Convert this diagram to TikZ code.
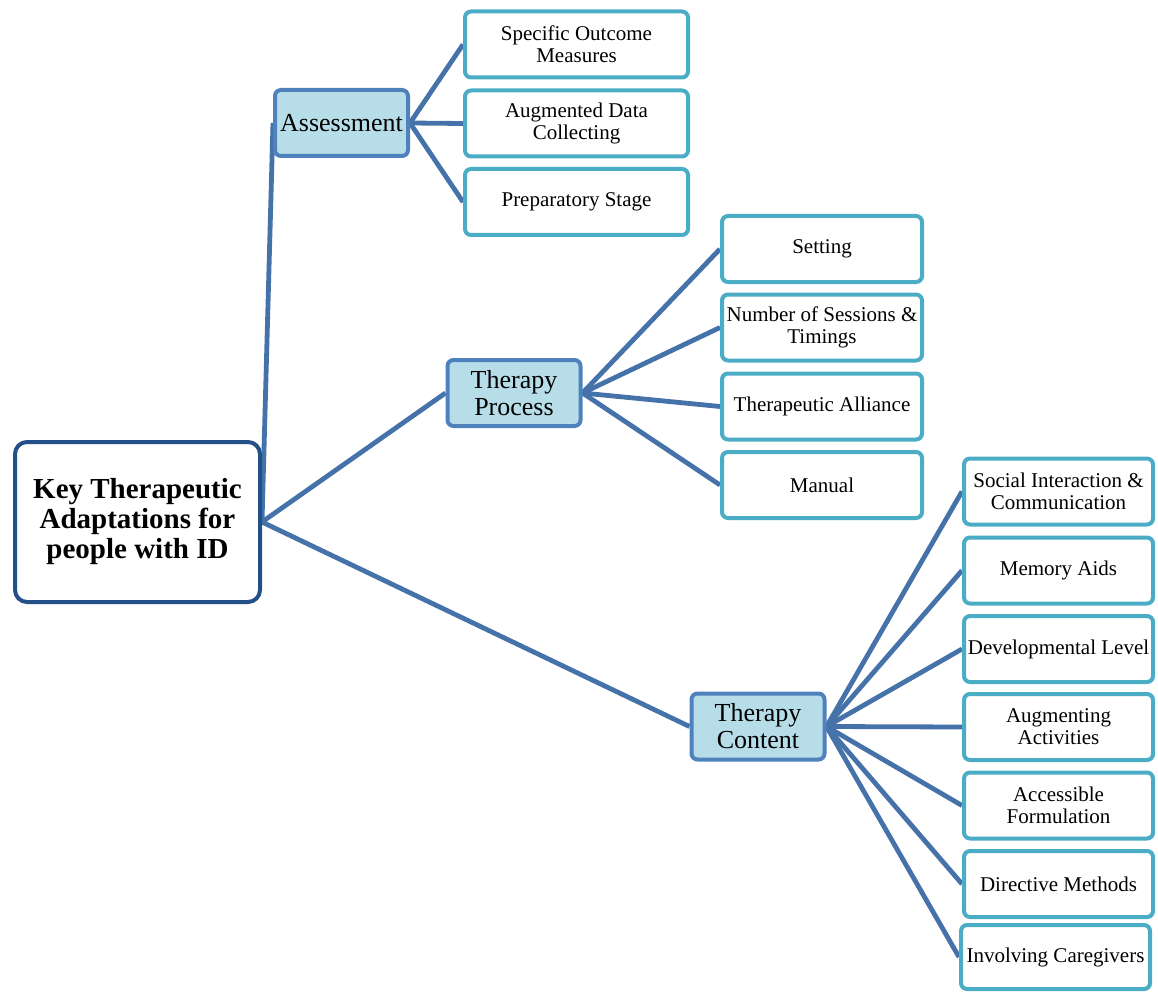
\documentclass[tikz,border=0pt]{standalone}
\usepackage{fontspec}
\setmainfont{Liberation Serif}
\usetikzlibrary{backgrounds}

\definecolor{rootline}{HTML}{24508A}
\definecolor{midline}{HTML}{4F81BD}
\definecolor{midfill}{HTML}{B7DEE8}
\definecolor{leafline}{HTML}{4BACC6}
\definecolor{linkline}{HTML}{4672AA}

\tikzset{
  rootbox/.style={draw=rootline,line width=4pt,rounded corners=12pt,fill=white,
    minimum width=245pt,minimum height=160pt,inner sep=0pt,align=center,
    font=\fontsize{29}{30}\selectfont\bfseries},
  midbox/.style={draw=midline,line width=4pt,rounded corners=6pt,fill=midfill,
    minimum width=133pt,minimum height=66pt,inner sep=0pt,align=center,
    font=\fontsize{26}{27}\selectfont},
  leafbox/.style={draw=leafline,line width=4pt,rounded corners=6pt,fill=white,
    minimum height=66pt,inner sep=0pt,align=center,
    font=\fontsize{21}{22}\selectfont},
  link/.style={draw=linkline,line width=4.8pt}
}

\begin{document}
\begin{tikzpicture}[x=1pt,y=-1pt]
\useasboundingbox (0,0) rectangle (1158,992);

% root and first level
\node[rootbox] (key) at (137.5,522) {Key Therapeutic\\Adaptations for\\people with ID};
\node[midbox] (assess) at (341.5,123) {Assessment};
\node[midbox] (process) at (514,393) {Therapy\\Process};
\node[midbox] (content) at (758,726.5) {Therapy\\Content};

% assessment
\node[leafbox,minimum width=223pt] (outcome) at (576.5,44.5) {Specific Outcome\\Measures};
\node[leafbox,minimum width=223pt] (data) at (576.5,123.5) {Augmented Data\\Collecting};
\node[leafbox,minimum width=223pt] (prep) at (576.5,202) {Preparatory Stage};

% therapy process
\node[leafbox,minimum width=200pt] (setting) at (822,249) {Setting};
\node[leafbox,minimum width=200pt] (sessions) at (822,327.5) {Number of Sessions \&\\Timings};
\node[leafbox,minimum width=200pt] (alliance) at (822,406.5) {Therapeutic Alliance};
\node[leafbox,minimum width=200pt] (manual) at (822,485) {Manual};

% therapy content
\node[leafbox,minimum width=189pt] (social) at (1058.5,491.5) {Social Interaction \&\\Communication};
\node[leafbox,minimum width=189pt] (memory) at (1058.5,570.5) {Memory Aids};
\node[leafbox,minimum width=189pt] (level) at (1058.5,649) {Developmental Level};
\node[leafbox,minimum width=189pt] (activities) at (1058.5,727) {Augmenting\\Activities};
\node[leafbox,minimum width=189pt] (formulation) at (1058.5,805.5) {Accessible\\Formulation};
\node[leafbox,minimum width=189pt] (directive) at (1058.5,884) {Directive Methods};
\node[leafbox,minimum width=189pt,minimum height=64pt] (carers) at (1055.5,957) {Involving Caregivers};

\begin{scope}[on background layer]
\foreach \c in {assess,process,content}
  \draw[link] (key.east) -- (\c.west);
\foreach \c in {outcome,data,prep}
  \draw[link] (assess.east) -- (\c.west);
\foreach \c in {setting,sessions,alliance,manual}
  \draw[link] (process.east) -- (\c.west);
\foreach \c in {social,memory,level,activities,formulation,directive,carers}
  \draw[link] (content.east) -- (\c.west);
\end{scope}
\end{tikzpicture}
\end{document}
